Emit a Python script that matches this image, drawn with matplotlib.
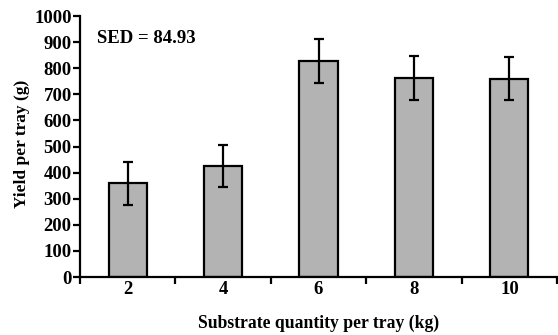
import numpy as np
import matplotlib
matplotlib.use("Agg")
import matplotlib.pyplot as plt

# data
categories = ["2", "4", "6", "8", "10"]
yield_g = [359, 426, 828, 763, 760]
err_g = [82, 80, 84, 85, 82]
sed_text = "SED = 84.93"

plt.rcParams["font.family"] = ["Liberation Serif", "DejaVu Serif"]
plt.rcParams["font.weight"] = "bold"
fs = 13.5

fig = plt.figure(figsize=(5.58, 3.35), dpi=100)
ax = fig.add_axes([0.1434, 0.173, 0.855, 0.779])

x = np.arange(len(categories))
ax.bar(x, yield_g, width=0.4, color="#b3b3b3", edgecolor="black", linewidth=1.6, zorder=2)
ax.errorbar(x, yield_g, yerr=err_g, fmt="none", ecolor="black", elinewidth=1.6,
            capsize=3.8, capthick=1.6, zorder=3)

ax.set_xlim(-0.5, len(categories) - 0.5)
ax.set_ylim(0, 1000)
ax.set_yticks(np.arange(0, 1001, 100))

# boundary ticks without labels, labels centred on bars
ax.set_xticks(np.arange(-0.5, len(categories), 1.0))
ax.set_xticklabels([])
ax.set_xticks(x, minor=True)
ax.set_xticklabels(categories, minor=True)
ax.tick_params(axis="x", which="major", direction="out", length=5, width=1.6)
ax.tick_params(axis="x", which="minor", length=0, pad=3, labelsize=fs)
ax.tick_params(axis="y", direction="out", length=5, width=1.6, pad=1, labelsize=fs)

for s in ["top", "right"]:
    ax.spines[s].set_visible(False)
for s in ["left", "bottom"]:
    ax.spines[s].set_linewidth(1.6)

ax.set_xlabel("Substrate quantity per tray (kg)", fontsize=12.7, fontweight="bold", labelpad=12)
ax.set_ylabel("Yield per tray (g)", fontsize=12.5, fontweight="bold")
ax.yaxis.set_label_coords(-0.105, 0.51)
ax.text(0.035, 0.915, sed_text, transform=ax.transAxes, fontsize=fs, fontweight="bold",
        ha="left", va="center")

fig.savefig("out.png", dpi=100)
